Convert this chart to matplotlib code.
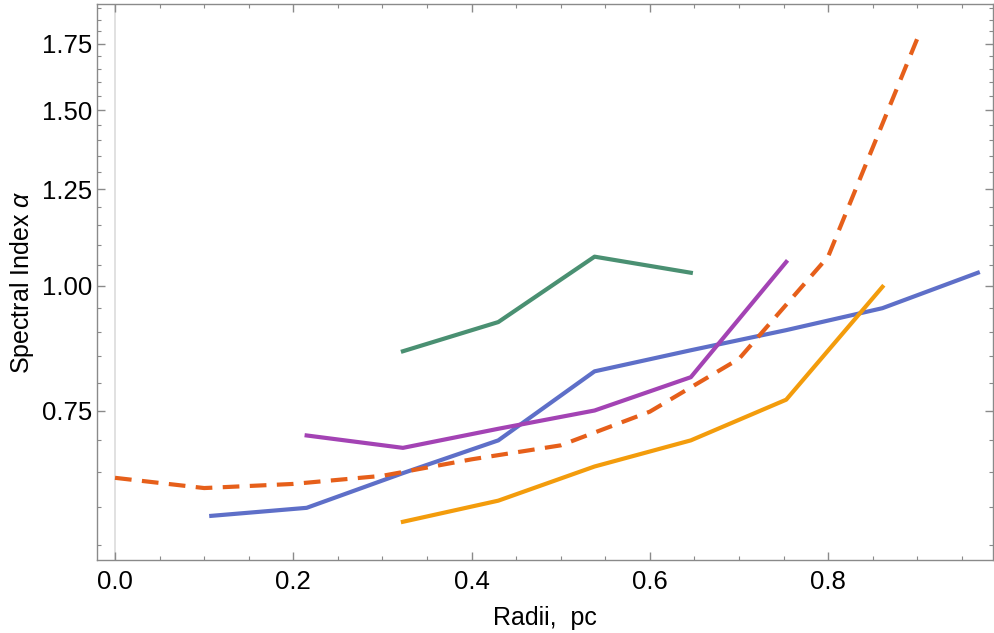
import matplotlib
matplotlib.use("Agg")
import matplotlib.pyplot as plt
from matplotlib.ticker import FixedLocator, FixedFormatter, NullFormatter

plt.rcParams['font.family'] = ['Liberation Sans', 'DejaVu Sans']
plt.rcParams['mathtext.fontset'] = 'custom'
plt.rcParams['mathtext.it'] = 'Liberation Sans:italic'
plt.rcParams['mathtext.rm'] = 'Liberation Sans'

# radii of the sampled rings (pc)
radii = [0.108, 0.215, 0.323, 0.430, 0.538, 0.646, 0.753, 0.861, 0.968]
radii_dash = [0.0, 0.1, 0.2, 0.3, 0.4, 0.5, 0.6, 0.7, 0.8, 0.9]

alpha_green = [0.860, 0.920, 1.070, 1.031]
alpha_blue = [0.588, 0.599, 0.649, 0.700, 0.821, 0.862, 0.903, 0.950, 1.031]
alpha_purple = [0.708, 0.688, 0.719, 0.750, 0.810, 1.057]
alpha_orange = [0.580, 0.609, 0.659, 0.700, 0.769, 0.998]
alpha_dash = [0.642, 0.627, 0.633, 0.645, 0.670, 0.692, 0.748, 0.845, 1.070, 1.770]

yticks = [0.75, 1.00, 1.25, 1.50, 1.75]
yminor = [0.55, 0.60, 0.65, 0.70, 0.80, 0.85, 0.90, 0.95, 1.05, 1.10, 1.15, 1.20,
          1.30, 1.35, 1.40, 1.45, 1.55, 1.60, 1.65, 1.70, 1.80, 1.85, 1.90]
xticks = [0.0, 0.2, 0.4, 0.6, 0.8]

fig = plt.figure(figsize=(9.94, 6.33), dpi=100)
ax = fig.add_axes([97/994, 1 - 560/633, 896/994, 556/633])

ax.axvline(0, color='#dcdcdc', lw=1.2, zorder=0)

lw = 3.0
ax.plot(radii[2:6], alpha_green, color='#4a9072', lw=lw)
ax.plot(radii, alpha_blue, color='#5e6fc8', lw=lw)
ax.plot(radii[1:7], alpha_purple, color='#a343b4', lw=lw)
ax.plot(radii[2:8], alpha_orange, color='#f39c0c', lw=lw)
ax.plot(radii_dash, alpha_dash, color='#e65f1a', lw=lw, dashes=(4.0, 2.5))

ax.set_yscale('log')
ax.set_xlim(-0.0202, 0.985)
ax.set_ylim(0.531, 1.918)

ax.yaxis.set_major_locator(FixedLocator(yticks))
ax.yaxis.set_major_formatter(FixedFormatter(['%.2f' % v for v in yticks]))
ax.yaxis.set_minor_locator(FixedLocator(yminor))
ax.yaxis.set_minor_formatter(NullFormatter())
ax.set_xticks(xticks)
ax.set_xticklabels(['%.1f' % v for v in xticks])
ax.set_xticks([0.05, 0.1, 0.15, 0.25, 0.3, 0.35, 0.45, 0.5, 0.55, 0.65, 0.7, 0.75, 0.85, 0.9, 0.95], minor=True)

for s in ax.spines.values():
    s.set_color('#8a8a8a')
    s.set_linewidth(1.0)
ax.tick_params(which='both', direction='in', top=True, right=True, colors='#8a8a8a',
               labelcolor='black', labelsize=18.5)
ax.tick_params(which='major', length=6, width=1.0)
ax.tick_params(which='minor', length=3, width=0.8)
ax.tick_params(axis='x', pad=7)
ax.tick_params(axis='y', pad=3.5)

ax.set_xlabel('Radii,  pc', fontsize=18, labelpad=9)
ax.set_ylabel(r'Spectral Index $\alpha$', fontsize=18, labelpad=4)

fig.savefig('out.png', dpi=100)
